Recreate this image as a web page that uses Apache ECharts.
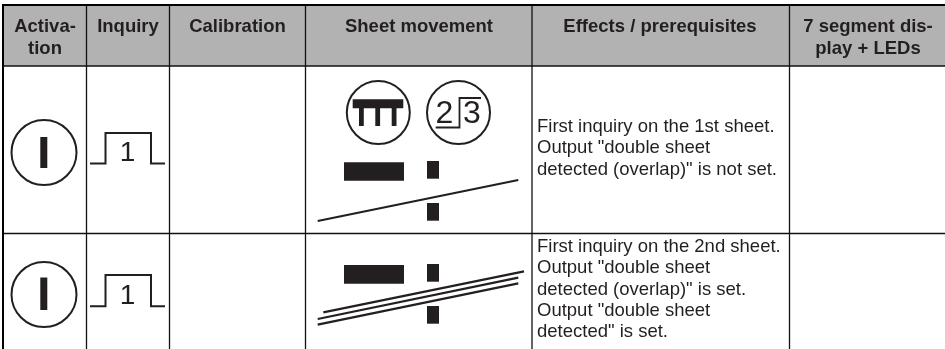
<!DOCTYPE html>
<html>
<head>
<meta charset="utf-8">
<style>html,body{margin:0;padding:0;background:#fff}#c{width:945px;height:349px}</style>
<script src="https://cdn.jsdelivr.net/npm/echarts@6/dist/echarts.min.js"></script>
</head>
<body>
<div id="c"></div>
<script>
var headerLabels = [["Activa-","tion"],["Inquiry"],["Calibration"],["Sheet movement"],["Effects / prerequisites"],["7 segment dis-","play + LEDs"]];
var rowOneEffects = ['First inquiry on the 1st sheet.','Output "double sheet','detected (overlap)" is not set.'];
var rowTwoEffects = ['First inquiry on the 2nd sheet.','Output "double sheet','detected (overlap)" is set.','Output "double sheet','detected" is set.'];
var pulseLabel = "1";
var sensorLabels = ["2","3"];

var INK = '#231f20';
var FONT = '"Liberation Sans", Arial, Helvetica, sans-serif';
var g = [];
function rect(x,y,w,h,fill){g.push({type:'rect',shape:{x:x,y:y,width:w,height:h},style:{fill:fill||INK,stroke:null}});}
function line(x1,y1,x2,y2,w,c){g.push({type:'line',shape:{x1:x1,y1:y1,x2:x2,y2:y2},style:{stroke:c||INK,lineWidth:w||1}});}
function circle(cx,cy,r,w){g.push({type:'circle',shape:{cx:cx,cy:cy,r:r},style:{fill:'none',stroke:INK,lineWidth:w||1.6}});}
function poly(pts,w){g.push({type:'polyline',shape:{points:pts},style:{fill:'none',stroke:INK,lineWidth:w||1.6,lineJoin:'miter'}});}
function text(s,x,y,size,weight,align){g.push({type:'text',style:{text:s,x:x,y:y,fill:INK,align:align||'center',verticalAlign:'middle',font:(weight||'normal')+' '+size+'px '+FONT}});}

// header band
rect(4,6,941,60,'#b2b2b2');

// grid
var colX=[86.5,169.5,305.5,532,789.5];
colX.forEach(function(x){line(x,6,x,349,1.3,'#111');});
line(4,66,945,66,1.3,'#111');
line(4,233.5,945,233.5,1.3,'#111');
rect(2,4,2,345,'#000');
rect(2,4,943,2,'#000');

// header text
var headerCx=[45,128,237.5,419,660,868];
headerLabels.forEach(function(ls,i){ls.forEach(function(s,j){text(s,headerCx[i],27+j*21.5,18.5,'bold');});});

// effects text
rowOneEffects.forEach(function(s,i){text(s,537,127+i*21.3,18.5,'normal','left');});
rowTwoEffects.forEach(function(s,i){text(s,537,247+i*21.3,18.5,'normal','left');});

// activation + inquiry symbols
function activation(cy,top,bottom){circle(44,cy,32.5,2);rect(40.3,top,7,bottom-top);}
function pulse(top,bottom){
  poly([[90,bottom],[105.5,bottom],[105.5,top],[151,top],[151,bottom],[165,bottom]],2);
  text(pulseLabel,127.5,(top+bottom)/2+5.5,28,'normal');
}
activation(152.5,137,168);pulse(133,163.5);
activation(294.5,277.5,310);pulse(275,306.2);

// sheet-movement symbols
circle(378.3,112.5,31.5,2);
rect(352.7,99.3,50.6,9);
[359,375.3,391.7].forEach(function(x){rect(x,104,4.8,22);});
circle(458.5,112.5,31.5,2);
poly([[435.7,127.5],[459.5,127.5],[459.5,98],[481,98]],1.8);
text(sensorLabels[0],444.3,114.5,32,'normal');
text(sensorLabels[1],472,114.5,32,'normal');

// row one sheet
rect(344,162.3,60,18.4);rect(427,161,12,17.7);rect(427,203,12,17.7);
line(317.7,221,518.3,180,2.2);
// row two sheets
rect(344,265,60,18.7);rect(427,264,12,17.7);rect(427,306,12,17.7);
line(323.3,312.3,524,271.3,2.2);
line(317.7,319,518.3,277.7,2.2);
line(317.7,324.7,518.3,283.3,2.2);

var chart=echarts.init(document.getElementById('c'),null,{renderer:'canvas'});
chart.setOption({animation:false,backgroundColor:'#fff',graphic:{elements:g}});
</script>
</body>
</html>
